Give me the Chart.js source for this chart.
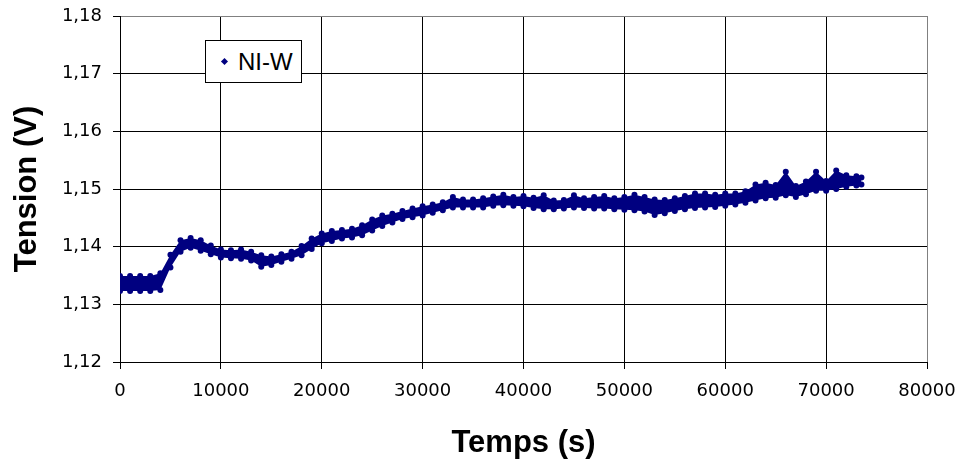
<!DOCTYPE html>
<html>
<head>
<meta charset="utf-8">
<script src="https://cdn.jsdelivr.net/npm/chart.js@4"></script>
<style>
  body { margin: 0; background: #fff; }
  #wrap { position: relative; width: 958px; height: 466px; }
  #legendBox {
    position: absolute; left: 205px; top: 40px; width: 95px; height: 41px;
    background: #fff; border: 1px solid #000;
    font-family: "Liberation Sans", Arial, sans-serif; font-size: 24px; color: #000;
    display: flex; align-items: center;
  }
  #legendBox .mark {
    width: 5px; height: 5px; background: #000080; transform: rotate(45deg);
    margin-left: 16px; margin-right: 11px;
  }
</style>
</head>
<body>
<div id="wrap">
  <canvas id="chart" width="958" height="466"></canvas>
  <div id="legendBox"><span class="mark"></span><span id="legendText"></span></div>
</div>
<script>
// Series: NI-W cell voltage vs time
const seriesName = 'NI-W';

// time samples (s)
const times = [
    0, 1000, 2000, 3000, 4000, 5000, 6000, 7000, 8000, 9000,
    10000, 11000, 12000, 13000, 14000, 15000, 16000, 17000, 18000, 19000,
    20000, 21000, 22000, 23000, 24000, 25000, 26000, 27000, 28000, 29000,
    30000, 31000, 32000, 33000, 34000, 35000, 36000, 37000, 38000, 39000,
    40000, 41000, 42000, 43000, 44000, 45000, 46000, 47000, 48000, 49000,
    50000, 51000, 52000, 53000, 54000, 55000, 56000, 57000, 58000, 59000,
    60000, 61000, 62000, 63000, 64000, 65000, 66000, 67000, 68000, 69000,
    70000, 71000, 72000, 73000, 73500
];

// upper edge of the noisy readings (V)
const voltHigh = [
    1.1349, 1.1349, 1.1349, 1.1349, 1.1354, 1.1386, 1.1411, 1.1415, 1.1411, 1.1402,
    1.1395, 1.1394, 1.1395, 1.1391, 1.1385, 1.1383, 1.1387, 1.1391, 1.1401, 1.1414,
    1.1423, 1.1427, 1.1429, 1.1431, 1.1437, 1.1447, 1.1454, 1.1457, 1.1462, 1.1466,
    1.1470, 1.1473, 1.1477, 1.1486, 1.1482, 1.1482, 1.1484, 1.1487, 1.1490, 1.1486,
    1.1488, 1.1485, 1.1489, 1.1480, 1.1481, 1.1489, 1.1484, 1.1486, 1.1488, 1.1484,
    1.1486, 1.1490, 1.1486, 1.1482, 1.1481, 1.1484, 1.1488, 1.1492, 1.1492, 1.1490,
    1.1492, 1.1492, 1.1496, 1.1508, 1.1511, 1.1507, 1.1530, 1.1505, 1.1513, 1.1530,
    1.1514, 1.1532, 1.1524, 1.1522, 1.1520
];

// lower edge of the noisy readings (V)
const voltLow = [
    1.1323, 1.1323, 1.1323, 1.1323, 1.1325, 1.1364, 1.1391, 1.1398, 1.1393, 1.1387,
    1.1381, 1.1380, 1.1379, 1.1376, 1.1365, 1.1368, 1.1374, 1.1379, 1.1385, 1.1396,
    1.1406, 1.1410, 1.1414, 1.1416, 1.1420, 1.1428, 1.1436, 1.1442, 1.1448, 1.1451,
    1.1454, 1.1459, 1.1463, 1.1468, 1.1468, 1.1468, 1.1468, 1.1471, 1.1472, 1.1471,
    1.1470, 1.1467, 1.1465, 1.1465, 1.1466, 1.1468, 1.1467, 1.1466, 1.1466, 1.1465,
    1.1464, 1.1463, 1.1461, 1.1455, 1.1458, 1.1462, 1.1465, 1.1467, 1.1468, 1.1469,
    1.1471, 1.1473, 1.1476, 1.1480, 1.1484, 1.1485, 1.1489, 1.1486, 1.1491, 1.1497,
    1.1497, 1.1500, 1.1504, 1.1506, 1.1508
];

// axis ticks
const xTicks = [0, 10000, 20000, 30000, 40000, 50000, 60000, 70000, 80000];
const yTicks = [1.12, 1.13, 1.14, 1.15, 1.16, 1.17, 1.18];

const navy = '#000080';
const tickFont = { family: '"DejaVu Sans", sans-serif', size: 18 };
const titleFont = { family: '"Liberation Sans", Arial, sans-serif', size: 31, weight: 'bold' };

document.getElementById('legendText').textContent = seriesName;

const toPoints = ys => times.map((t, i) => ({ x: t, y: ys[i] }));

const bandSet = (label, ys, fill) => ({
    label: label,
    data: toPoints(ys),
    borderColor: 'rgba(0,0,0,0)',
    borderWidth: 0,
    backgroundColor: navy,
    pointBackgroundColor: navy,
    pointBorderColor: navy,
    pointRadius: 3,
    pointBorderWidth: 0,
    fill: fill
});

new Chart(document.getElementById('chart'), {
    type: 'line',
    data: {
        datasets: [
            bandSet(seriesName, voltHigh, '+1'),
            bandSet(seriesName + ' low', voltLow, false)
        ]
    },
    options: {
        responsive: false,
        animation: false,
        layout: { padding: { top: 16, right: 31, left: 0, bottom: 0 } },
        plugins: {
            legend: { display: false },
            tooltip: { enabled: false }
        },
        scales: {
            x: {
                type: 'linear',
                min: xTicks[0],
                max: xTicks[xTicks.length - 1],
                afterBuildTicks: s => { s.ticks = xTicks.map(v => ({ value: v })); },
                afterFit: s => { s.height = 104; s.paddingLeft = 0; s.paddingRight = 0; },
                border: { color: '#000', width: 1 },
                grid: {
                    color: c => (c.tick && c.tick.value === 80000 ? '#808080' : '#000'),
                    tickColor: '#000',
                    tickLength: 7,
                    lineWidth: 1
                },
                ticks: {
                    color: '#000',
                    font: tickFont,
                    padding: 12,
                    maxRotation: 0,
                    callback: v => String(v)
                },
                title: {
                    display: true,
                    text: 'Temps (s)',
                    color: '#000',
                    font: titleFont,
                    padding: { top: 0, bottom: 4 }
                }
            },
            y: {
                type: 'linear',
                min: yTicks[0],
                max: yTicks[yTicks.length - 1],
                afterBuildTicks: s => { s.ticks = yTicks.map(v => ({ value: v })); },
                afterFit: s => { s.width = 120; s.paddingTop = 0; s.paddingBottom = 0; },
                border: { color: '#000', width: 1 },
                grid: {
                    color: c => (c.tick && c.tick.value === 1.18 ? '#808080' : '#000'),
                    tickColor: '#000',
                    tickLength: 7,
                    lineWidth: 1
                },
                ticks: {
                    color: '#000',
                    font: tickFont,
                    padding: 11,
                    callback: v => v.toFixed(2).replace('.', ',')
                },
                title: {
                    display: true,
                    text: 'Tension (V)',
                    color: '#000',
                    font: titleFont,
                    padding: { top: 9, bottom: 0 }
                }
            }
        }
    }
});
</script>
</body>
</html>
